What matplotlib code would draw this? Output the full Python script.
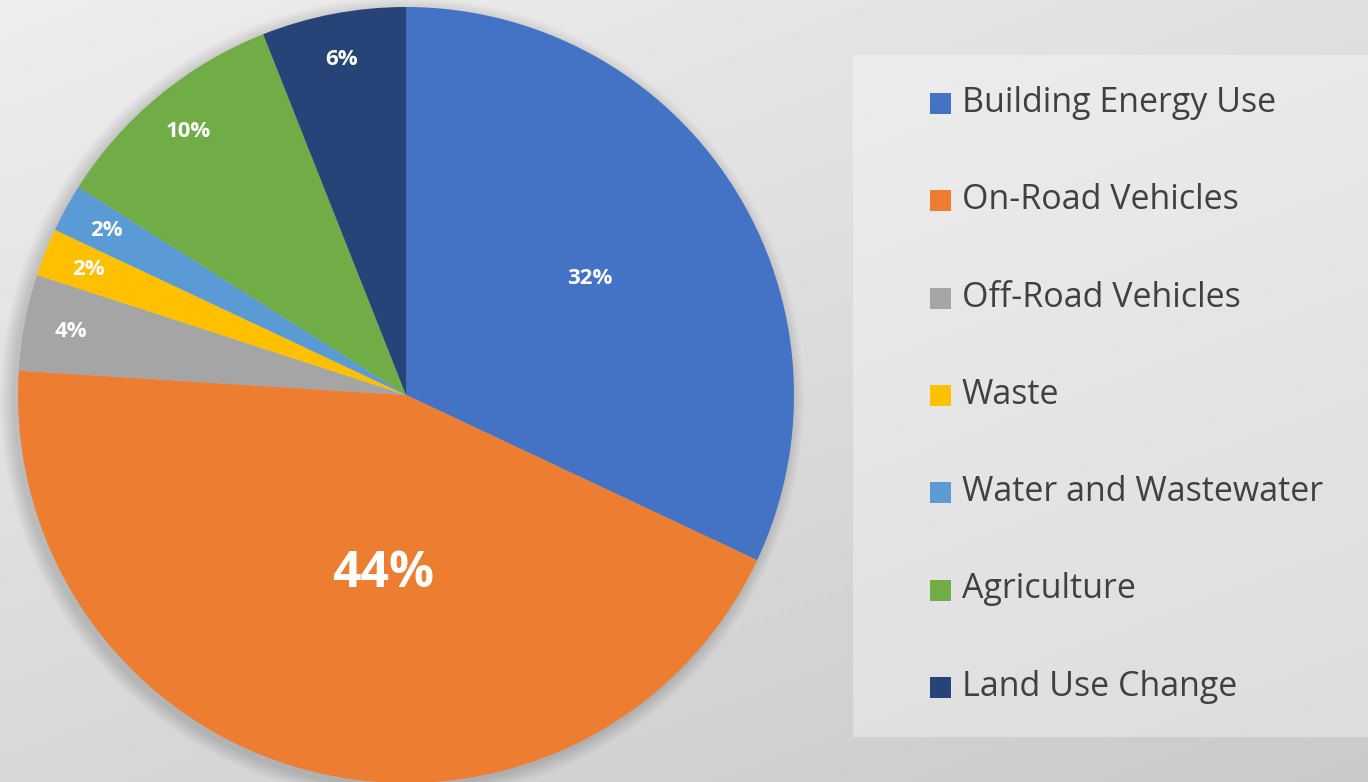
import numpy as np
import matplotlib.pyplot as plt
from matplotlib.patches import Rectangle, Circle

# emissions share by sector
categories = ["Building Energy Use", "On-Road Vehicles", "Off-Road Vehicles", "Waste",
              "Water and Wastewater", "Agriculture", "Land Use Change"]
shares = [32, 44, 4, 2, 2, 10, 6]
colors = ["#4472C4", "#ED7D31", "#A5A5A5", "#FFC000", "#5B9BD5", "#70AD47", "#264478"]

W, H = 1368, 782
fig = plt.figure(figsize=(W / 100, H / 100), dpi=100)
ax = fig.add_axes([0, 0, 1, 1])

# grey background, lighter top-left, darker bottom-right
yy, xx = np.mgrid[0:H, 0:W]
bg = 0.93 - 0.055 * xx / W - 0.085 * yy / H
ax.imshow(bg, cmap="gray", vmin=0, vmax=1, extent=[0, W, 0, H], origin="upper", zorder=0)

cx, cy, R = 406, H - 395, 388

# soft shadow behind the pie
for k in range(12):
    ax.add_patch(Circle((cx - 4, cy - 4), R + 14 - k * 1.2, color="black",
                        alpha=0.012, lw=0, zorder=1))

wedges, texts, autotexts = ax.pie(
    shares, colors=colors, startangle=90, counterclock=False,
    center=(cx, cy), radius=R, autopct="%d%%", pctdistance=0.88,
    wedgeprops=dict(linewidth=0), frame=True,
    textprops=dict(color="white", fontsize=16, fontweight="bold", family="Open Sans"))
for w in wedges:
    w.set_zorder(2)

ax.set_xlim(0, W)
ax.set_ylim(0, H)
ax.set_aspect("equal")
ax.axis("off")

# Excel "best fit" style placement for the two big slices
def move(t, frac, dx=0, dy=0):
    x, y = t.get_position()
    t.set_position((cx + (x - cx) * frac + dx, cy + (y - cy) * frac + dy))

move(autotexts[0], 0.56 / 0.88)
move(autotexts[1], 0.46 / 0.88, dx=22, dy=-6)
autotexts[1].set_fontsize(36)
for t in autotexts:
    t.set_zorder(3)

# legend panel
ax.add_patch(Rectangle((853, H - 737), W - 853, 737 - 55, facecolor="white",
                       alpha=0.35, lw=0, zorder=1))
for i, (lab, c) in enumerate(zip(categories, colors)):
    y = H - (103 + i * 97.3)
    ax.add_patch(Rectangle((930, y - 11), 21, 21, facecolor=c, lw=0, zorder=3))
    ax.text(962, y, lab, fontsize=24.5, color="#404040", va="center", ha="left",
            family="Open Sans", zorder=3)

fig.savefig("out.png", dpi=100)
